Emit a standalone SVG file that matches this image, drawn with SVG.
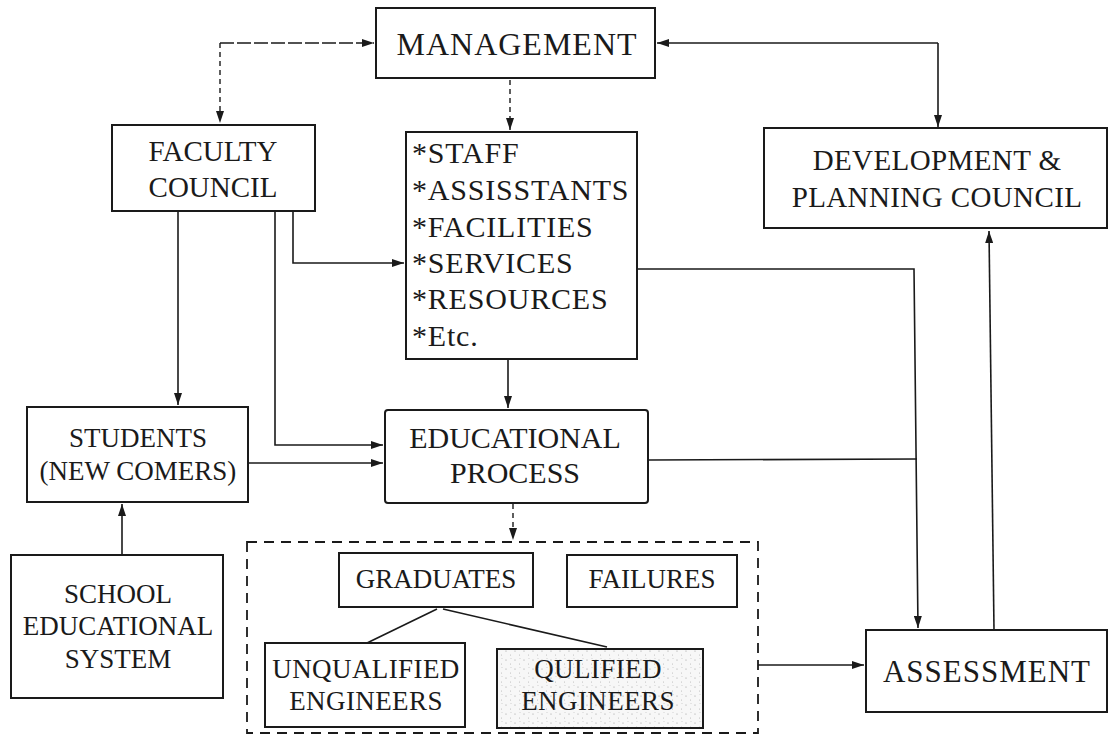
<svg xmlns="http://www.w3.org/2000/svg" width="1109" height="735" viewBox="0 0 1109 735">
<defs>
<marker id="ah" viewBox="0 0 12 8" refX="12" refY="4" markerWidth="12" markerHeight="8" markerUnits="userSpaceOnUse" orient="auto">
<path d="M0,0 L12,4 L0,8 Z" fill="#1a1a1a"/>
</marker>
<pattern id="speck" width="9" height="9" patternUnits="userSpaceOnUse">
<rect width="9" height="9" fill="#f7f7f7"/>
<circle cx="2" cy="3" r="0.6" fill="#9a9a9a"/>
<circle cx="6.5" cy="7" r="0.5" fill="#b0b0b0"/>
<circle cx="7" cy="1.5" r="0.4" fill="#a0a0a0"/>
</pattern>
<style>
.box{fill:#ffffff;stroke:#1a1a1a;stroke-width:2}
.t{font-family:"Liberation Serif","Times New Roman",serif;fill:#1a1a1a;text-anchor:middle}
.tl{font-family:"Liberation Serif","Times New Roman",serif;fill:#1a1a1a}
.c{fill:none;stroke:#1a1a1a;stroke-width:1.6}
.d{fill:none;stroke:#1a1a1a;stroke-width:1.6;stroke-dasharray:14 3}
.dd{fill:none;stroke:#1a1a1a;stroke-width:1.4;stroke-dasharray:5 4}
.ct{fill:none;stroke:#1a1a1a;stroke-width:1.8;stroke-dasharray:10 7}
</style>
</defs>
<rect width="1109" height="735" fill="#ffffff"/>

<g id="connectors">
<path class="d" d="M220,43 L374,43" marker-end="url(#ah)"/>
<path class="dd" d="M220,43 L220,123" marker-end="url(#ah)"/>
<path class="c" d="M938,43 L657,43" marker-end="url(#ah)"/>
<path class="c" d="M938,43 L938,127" marker-end="url(#ah)"/>
<path class="dd" d="M510,80 L510,130" marker-end="url(#ah)"/>
<path class="c" d="M178,211 L178,405" marker-end="url(#ah)"/>
<path class="c" d="M275,211 L275,445 L383,445" marker-end="url(#ah)"/>
<path class="c" d="M293,211 L293,263 L404,263" marker-end="url(#ah)"/>
<path class="c" d="M248,463 L383,463" marker-end="url(#ah)"/>
<path class="c" d="M122,555 L122,504" marker-end="url(#ah)"/>
<path class="c" d="M508,360 L508,408" marker-end="url(#ah)"/>
<path class="dd" d="M513,504 L513,540" marker-end="url(#ah)"/>
<path class="c" d="M638,269 L914,269 L918,628" marker-end="url(#ah)"/>
<path class="c" d="M649,460 L917,459"/>
<path class="c" d="M994,630 L989,231" marker-end="url(#ah)"/>
<path class="c" d="M758,665 L864,665" marker-end="url(#ah)"/>
<path class="c" d="M437,609 L367,643"/>
<path class="c" d="M443,609 L607,647"/>
</g>

<g id="management">
<rect class="box" x="376" y="8" width="279" height="70"/>
<text class="t" x="517" y="55" font-size="32" letter-spacing="1">MANAGEMENT</text>
</g>

<g id="faculty-council">
<rect class="box" x="112" y="125" width="203" height="86"/>
<text class="t" x="213" y="161" font-size="29">FACULTY</text>
<text class="t" x="213" y="197" font-size="29">COUNCIL</text>
</g>

<g id="resources">
<rect class="box" x="406" y="132" width="231" height="227"/>
<text class="tl" x="412" y="163" font-size="30" letter-spacing="0.8">*STAFF</text>
<text class="tl" x="412" y="200" font-size="30" letter-spacing="0.8">*ASSISSTANTS</text>
<text class="tl" x="412" y="237" font-size="30" letter-spacing="0.8">*FACILITIES</text>
<text class="tl" x="412" y="273" font-size="30" letter-spacing="0.8">*SERVICES</text>
<text class="tl" x="412" y="309" font-size="30" letter-spacing="0.8">*RESOURCES</text>
<text class="tl" x="412" y="346" font-size="30" letter-spacing="0.8">*Etc.</text>
</g>

<g id="development-planning-council">
<rect class="box" x="764" y="128" width="343" height="100"/>
<text class="t" x="937" y="170" font-size="29" letter-spacing="0.4">DEVELOPMENT &amp;</text>
<text class="t" x="937" y="207" font-size="29" letter-spacing="0.4">PLANNING COUNCIL</text>
</g>

<g id="students">
<rect class="box" x="27" y="407" width="221" height="95"/>
<text class="t" x="138" y="447" font-size="27">STUDENTS</text>
<text class="t" x="138" y="480" font-size="27">(NEW COMERS)</text>
</g>

<g id="educational-process">
<rect class="box" x="385" y="410" width="263" height="93" rx="3"/>
<text class="t" x="515" y="448" font-size="30">EDUCATIONAL</text>
<text class="t" x="515" y="483" font-size="30">PROCESS</text>
</g>

<g id="school-educational-system">
<rect class="box" x="11" y="555" width="212" height="143"/>
<text class="t" x="118" y="603" font-size="27">SCHOOL</text>
<text class="t" x="118" y="635" font-size="27">EDUCATIONAL</text>
<text class="t" x="118" y="668" font-size="27">SYSTEM</text>
</g>

<g id="outcomes">
<rect x="247" y="542" width="511" height="191" fill="none" class="ct"/>
</g>

<g id="graduates">
<rect class="box" x="339" y="553" width="194" height="54"/>
<text class="t" x="436" y="588" font-size="27">GRADUATES</text>
</g>

<g id="failures">
<rect class="box" x="567" y="555" width="170" height="52"/>
<text class="t" x="652" y="588" font-size="27">FAILURES</text>
</g>

<g id="unqualified-engineers">
<rect class="box" x="265" y="643" width="200" height="84"/>
<text class="t" x="366" y="678" font-size="27" letter-spacing="0.4">UNQUALIFIED</text>
<text class="t" x="366" y="710" font-size="27" letter-spacing="0.4">ENGINEERS</text>
</g>

<g id="qualified-engineers">
<rect class="box" x="497" y="649" width="206" height="79" style="fill:url(#speck)"/>
<text class="t" x="598" y="678" font-size="27" letter-spacing="0.4">QULIFIED</text>
<text class="t" x="598" y="710" font-size="27" letter-spacing="0.4">ENGINEERS</text>
</g>

<g id="assessment">
<rect class="box" x="866" y="630" width="241" height="82"/>
<text class="t" x="987" y="682" font-size="31" letter-spacing="1">ASSESSMENT</text>
</g>
</svg>
